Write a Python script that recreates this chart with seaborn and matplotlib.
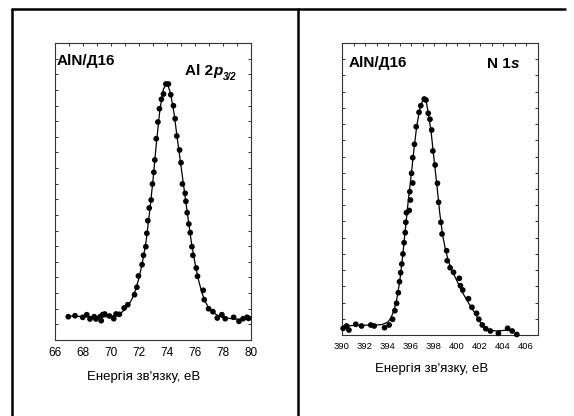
import numpy as np
import pandas as pd
import matplotlib
matplotlib.use("Agg")
import matplotlib.pyplot as plt
from matplotlib.lines import Line2D
from matplotlib.ticker import MultipleLocator, FixedLocator, NullFormatter
import seaborn as sns

# ---------------- data ----------------
al_x = [66.95, 67.43, 67.98, 68.27, 68.5, 68.8, 68.93, 69.22, 69.3, 69.4, 69.55, 69.89,
        70.2, 70.36, 70.6, 70.94, 71.2, 71.68, 71.85, 71.96, 72.22, 72.32, 72.49, 72.56,
        72.63, 72.73, 72.87, 72.96, 73.06, 73.13, 73.23, 73.35, 73.46, 73.6, 73.75, 73.92,
        74.1, 74.27, 74.46, 74.58, 74.7, 74.9, 75.0, 75.1, 75.3, 75.35, 75.44, 75.56,
        75.66, 75.78, 75.85, 76.09, 76.18, 76.59, 76.66, 76.97, 77.28, 77.59, 77.92, 78.16,
        78.76, 79.14, 79.43, 79.71, 79.83]
al_y = [23.3, 24.3, 22.7, 25.3, 21.0, 23.3, 21.0, 23.3, 19.3, 25.3, 26.0, 24.0,
        21.3, 26.0, 25.7, 32.0, 35.3, 45.3, 52.7, 64.0, 75.3, 84.7, 93.3, 106.7,
        119.3, 132.0, 140.0, 156.0, 167.7, 180.0, 201.3, 218.0, 231.3, 240.7, 246.0, 256.0,
        256.0, 245.3, 234.3, 221.3, 204.0, 190.0, 177.3, 156.0, 146.7, 138.7, 127.3, 116.0,
        107.3, 93.3, 84.7, 72.0, 63.7, 49.7, 40.3, 31.3, 28.3, 22.0, 25.3, 21.3,
        22.7, 18.7, 21.3, 22.7, 21.7]
al_fit_x = [67.0, 67.5, 68.0, 68.5, 69.0, 69.5, 70.0, 70.5, 70.75, 71.0, 71.25, 71.5,
            71.75, 72.0, 72.25, 72.5, 72.75, 73.0, 73.25, 73.5, 73.75, 74.0, 74.25, 74.5,
            74.75, 75.0, 75.25, 75.5, 75.75, 76.0, 76.25, 76.5, 76.75, 77.0, 77.5, 78.0,
            78.5, 79.0, 79.5, 79.8]
al_fit_y = [24.0, 23.8, 23.5, 23.3, 23.2, 23.2, 23.5, 25.5, 27.5, 30.5, 35.0, 41.0,
            50.0, 62.0, 78.0, 98.0, 127.0, 160.0, 198.0, 231.0, 251.0, 257.0, 247.0, 227.0,
            200.0, 174.0, 148.0, 122.0, 97.0, 77.0, 60.0, 47.0, 38.0, 31.5, 25.5, 22.5,
            21.5, 20.8, 20.5, 20.5]

n_x = [390.1, 390.4, 390.6, 391.2, 391.7, 392.5, 392.8, 393.7, 394.1, 394.4, 394.6, 394.75,
       394.9, 395.0, 395.1, 395.2, 395.3, 395.4, 395.5, 395.55, 395.6, 395.85, 395.9, 395.95,
       396.05, 396.15, 396.15, 396.3, 396.45, 396.7, 396.85, 397.15, 397.3, 397.5, 397.65, 397.8,
       397.9, 398.1, 398.3, 398.4, 398.6, 398.7, 399.1, 399.15, 399.4, 399.7, 400.2, 400.3,
       400.5, 401.0, 401.3, 401.7, 401.9, 402.2, 402.5, 402.9, 403.6, 404.4, 404.8, 405.2]
n_y = [6.7, 9.0, 5.0, 10.7, 9.0, 10.0, 9.0, 7.3, 10.0, 15.7, 24.3, 31.7,
       42.3, 53.3, 62.3, 71.0, 81.0, 92.3, 102.3, 112.7, 122.3, 124.5, 143.3, 135.0,
       161.7, 152.0, 177.3, 190.7, 208.3, 222.7, 229.3, 236.0, 235.0, 221.7, 215.7, 205.0,
       184.0, 170.0, 151.7, 132.7, 112.7, 101.0, 84.3, 74.3, 67.3, 62.7, 56.7, 49.3,
       45.0, 36.3, 27.7, 21.7, 15.7, 10.0, 6.3, 4.0, 1.7, 6.7, 4.0, 0.5]
n_fit_x = [390.0, 391.0, 392.0, 393.0, 393.5, 394.0, 394.25, 394.5, 394.75, 395.0, 395.25, 395.5,
           395.75, 396.0, 396.25, 396.5, 396.75, 397.0, 397.15, 397.35, 397.5, 397.75, 398.0, 398.25,
           398.5, 398.75, 399.0, 399.25, 399.5, 399.75, 400.0, 400.25, 400.5, 400.75, 401.0, 401.5,
           402.0, 402.5, 403.0, 403.5, 404.0, 404.5, 404.8]
n_fit_y = [9.0, 9.5, 9.8, 10.0, 10.5, 13.0, 17.0, 24.0, 35.0, 52.0, 76.0, 105.0,
           133.0, 158.0, 185.0, 209.0, 225.0, 234.0, 237.0, 232.0, 222.0, 203.0, 176.0, 150.0,
           122.0, 100.0, 85.0, 74.0, 66.0, 60.0, 54.0, 48.0, 42.0, 37.0, 32.0, 23.0,
           13.0, 7.0, 4.5, 4.0, 4.5, 5.0, 4.0]

xlabel = "Енергія зв'язку, еВ"
sample = "AlN/Д16"

# ---------------- figure ----------------
sns.set_style("white")
plt.rcParams['font.family'] = ['Liberation Sans', 'DejaVu Sans']
plt.rcParams['text.color'] = 'black'
plt.rcParams['axes.labelcolor'] = 'black'

fig = plt.figure(figsize=(5.74, 4.16), dpi=100)

# table-like frame
lw_frame = 1.8
fig.add_artist(Line2D([12/574, 565/574], [1 - 9/416, 1 - 9/416], color='black', lw=lw_frame))
fig.add_artist(Line2D([12/574, 12/574], [0, 1 - 9/416], color='black', lw=lw_frame))
fig.add_artist(Line2D([298/574, 298/574], [0, 1 - 9/416], color='black', lw=lw_frame))

ax1 = fig.add_axes([55/574, 76/416, 196/574, 297/416])
ax2 = fig.add_axes([342/574, 81/416, 195.5/574, 292/416])

df_al = pd.DataFrame({"x": al_x, "y": al_y})
df_alf = pd.DataFrame({"x": al_fit_x, "y": al_fit_y})
df_n = pd.DataFrame({"x": n_x, "y": n_y})
df_nf = pd.DataFrame({"x": n_fit_x, "y": n_fit_y})

for ax, dpts, dfit in [(ax1, df_al, df_alf), (ax2, df_n, df_nf)]:
    sns.lineplot(data=dfit, x="x", y="y", ax=ax, color='black', lw=0.9, sort=False,
                 estimator=None, zorder=2)
    sns.scatterplot(data=dpts, x="x", y="y", ax=ax, color='black', s=17,
                    edgecolor='none', zorder=3, clip_on=False)

def style(ax, xmin, xmax, ymax, nint, tick_fs, label_x):
    ax.set_xlim(xmin, xmax)
    ax.set_ylim(0, ymax)
    for s in ax.spines.values():
        s.set_color('#333333')
        s.set_linewidth(0.8)
    ax.xaxis.set_major_locator(MultipleLocator(2))
    ax.xaxis.set_minor_locator(MultipleLocator(1))
    ax.tick_params(axis='x', which='major', direction='out', length=3.5, width=0.7,
                   labelsize=tick_fs, pad=1.5, colors='#333333', labelcolor='black')
    ax.tick_params(axis='x', which='minor', direction='out', length=2.5, width=0.7,
                   colors='#333333')
    ax.yaxis.set_major_locator(FixedLocator(np.linspace(0, ymax, nint + 1)))
    ax.yaxis.set_major_formatter(NullFormatter())
    ax.tick_params(axis='y', which='major', direction='in', length=2.5, width=0.7,
                   left=True, right=True, colors='#333333')
    ax.set_ylabel("")
    ax.set_xlabel(xlabel, fontsize=9.5, labelpad=9, color='black')
    ax.xaxis.label.set_x(label_x)
    # top ticks every 1 unit, inward
    sec = ax.secondary_xaxis('top')
    sec.xaxis.set_major_locator(MultipleLocator(1))
    sec.xaxis.set_major_formatter(NullFormatter())
    sec.tick_params(direction='in', length=2.5, width=0.7, colors='#333333')
    sec.spines['top'].set_visible(False)

style(ax1, 66, 80, 297, 19, 8.5, 0.45)
style(ax2, 390, 407, 292, 18, 6.8, 0.46)

fs_lab = 11
# labels inside plots
fig.text(57/574, 1 - 61/416, sample, fontsize=fs_lab, color='black',
         fontweight='bold', va='center', ha='left')
fig.text(349/574, 1 - 63/416, sample, fontsize=fs_lab, color='black',
         fontweight='bold', va='center', ha='left')

t1 = fig.text(185/574, 1 - 75/416, "Al 2", fontsize=fs_lab, color='black',
              fontweight='bold', va='baseline', ha='left')
t2 = ax1.annotate("p", xy=(1, 0), xycoords=t1, xytext=(0.3, 0), textcoords='offset points',
                  fontsize=fs_lab, color='black', fontweight='bold', fontstyle='italic',
                  va='bottom', ha='left')
ax1.annotate("3/2", xy=(1, 0), xycoords=t2, xytext=(0, -2.8), textcoords='offset points',
             fontsize=7, color='black', fontweight='bold', fontstyle='italic',
             va='bottom', ha='left')

t3 = fig.text(487/574, 1 - 68/416, "N 1", fontsize=fs_lab, color='black',
              fontweight='bold', va='baseline', ha='left')
ax2.annotate("s", xy=(1, 0), xycoords=t3, xytext=(0.3, 0), textcoords='offset points',
             fontsize=fs_lab, color='black', fontweight='bold', fontstyle='italic',
             va='bottom', ha='left')

fig.savefig("out.png", dpi=100)
